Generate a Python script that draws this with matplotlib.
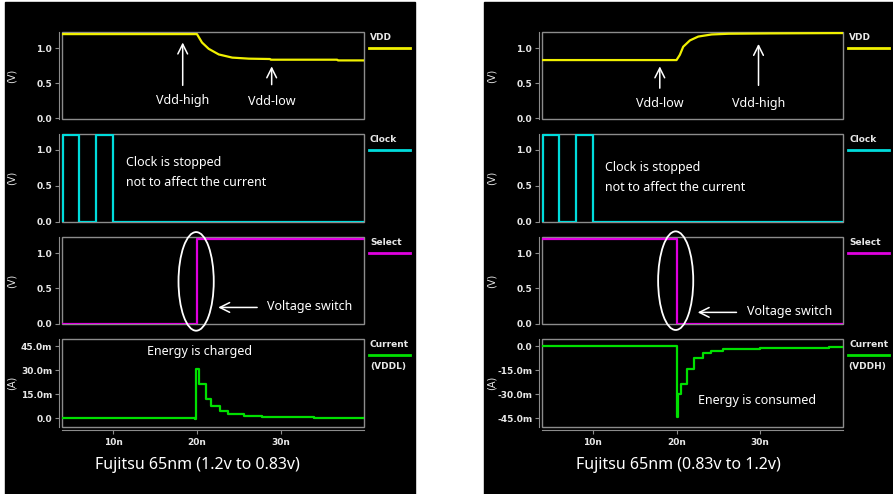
import matplotlib
matplotlib.use("Agg")
import matplotlib.pyplot as plt
from matplotlib.patches import Rectangle, Ellipse
from matplotlib.lines import Line2D

plt.rcParams['font.family'] = ['Noto Sans', 'DejaVu Sans']

# ---- data (time in ns, voltage in V, current in mA) ----
vdd_left_t = [3.9, 20.0, 20.6, 21.4, 22.6, 24.2, 26.2, 28.7, 28.8, 36.7, 36.8, 40.0]
vdd_left_v = [1.2, 1.2, 1.08, 0.99, 0.91, 0.865, 0.85, 0.845, 0.835, 0.835, 0.825, 0.825]
vdd_right_t = [3.9, 20.0, 20.4, 20.8, 21.6, 22.6, 24.2, 26.2, 31.4, 40.0]
vdd_right_v = [0.83, 0.83, 0.905, 1.02, 1.11, 1.165, 1.195, 1.205, 1.21, 1.215]

clock_t = [4.0, 4.0, 6.0, 6.0, 8.0, 8.0, 10.0, 10.0, 40.0]
clock_v = [0.0, 1.2, 1.2, 0.0, 0.0, 1.2, 1.2, 0.0, 0.0]

select_t = [3.9, 20.0, 20.0, 40.0]
select_left_v = [0.0, 0.0, 1.2, 1.2]
select_right_v = [1.2, 1.2, 0.0, 0.0]

cur_left_t = [3.9, 19.8, 19.9, 20.3, 21.1, 21.7, 22.7, 23.7, 25.6, 27.7, 33.9, 40.0]
cur_left_i = [0.0, -0.8, 30.5, 21.5, 12.0, 7.3, 4.1, 2.3, 1.2, 0.8, 0.3, 0.3]
cur_right_t = [3.9, 20.0, 20.15, 20.5, 21.2, 22.1, 23.2, 24.1, 25.6, 30.0, 38.2, 40.0]
cur_right_i = [0.0, -44.5, -30.0, -23.7, -14.3, -7.7, -4.1, -2.9, -2.1, -1.5, -0.4, -0.4]

v_ticks = [0.0, 0.5, 1.0]
v_labels = ["0.0", "0.5", "1.0"]
t_ticks = [10, 20, 30]
t_labels = ["10n", "20n", "30n"]
i_left_ticks = [0, 15, 30, 45]
i_left_labels = ["0.0", "15.0m", "30.0m", "45.0m"]
i_right_ticks = [0, -15, -30, -45]
i_right_labels = ["0.0", "-15.0m", "-30.0m", "-45.0m"]

YEL = '#f0f000'
CYA = '#00dcdc'
MAG = '#e000e0'
GRN = '#00e000'
GRAY = '#8c8c8c'
TXT = '#e8e8e8'

W, H = 893, 494
fig = plt.figure(figsize=(W / 100, H / 100), dpi=100)
fig.patch.set_facecolor('white')


def fx(x):
    return x / W


def fy(y):
    return 1 - y / H


# black panels
fig.patches.append(Rectangle((fx(5), 0), fx(410), fy(2), transform=fig.transFigure,
                             color='black', zorder=-5))
fig.patches.append(Rectangle((fx(484), 0), fx(409), fy(2), transform=fig.transFigure,
                             color='black', zorder=-5))

rows = [(32, 119), (134, 222), (237, 324), (339, 427)]
cols = [(62, 364), (542, 843)]


def make_ax(col, row, bottom=False):
    x0, x1 = cols[col]
    y0, y1 = rows[row]
    ax = fig.add_axes([fx(x0), fy(y1), fx(x1 - x0), (y1 - y0) / H])
    ax.set_facecolor('black')
    for s in ['top', 'right']:
        ax.spines[s].set_visible(False)
    ax.spines['left'].set_position(('outward', 2))
    ax.spines['left'].set_color(GRAY)
    if bottom:
        ax.spines['bottom'].set_position(('outward', 2))
        ax.spines['bottom'].set_color(GRAY)
        ax.set_xticks(t_ticks)
        ax.set_xticklabels(t_labels)
    else:
        ax.spines['bottom'].set_visible(False)
        ax.set_xticks([])
    ax.add_patch(Rectangle((0, 0), 1, 1, transform=ax.transAxes, fill=False,
                           ec=GRAY, lw=1, clip_on=False, zorder=1))
    ax.tick_params(colors=GRAY, labelcolor=TXT, labelsize=6.5, length=3, width=0.8, pad=2)
    ax.tick_params(axis='x', pad=3)
    ax.set_xlim(3.92, 39.9)
    return ax


def style_ticks(ax):
    for lab in ax.get_xticklabels() + ax.get_yticklabels():
        lab.set_family('DejaVu Sans')
        lab.set_fontweight('bold')


def legend_entry(col, row, name, color, extra=None):
    x0, x1 = cols[col]
    y0, _ = rows[row]
    lx = x1 + 5
    fig.text(fx(lx + 1), fy(y0 + 5), name, color=TXT, fontsize=6.5, fontweight='bold',
             family='DejaVu Sans', va='center', ha='left')
    fig.add_artist(Line2D([fx(lx), fx(lx + 41)], [fy(y0 + 16), fy(y0 + 16)],
                          color=color, lw=2, transform=fig.transFigure))
    if extra:
        fig.text(fx(lx + 19), fy(y0 + 28), extra, color=TXT, fontsize=6.5, fontweight='bold',
                 family='DejaVu Sans', va='center', ha='center')


def up_arrow(ax, t, y_from, y_to):
    ax.annotate('', xy=(t, y_to), xytext=(t, y_from),
                arrowprops=dict(arrowstyle='->,head_length=0.7,head_width=0.35',
                                color='white', lw=1.1))


def ylab(ax, s):
    ax.set_ylabel(s, color=TXT, fontsize=7, family='DejaVu Sans')
    ax.yaxis.set_label_coords(-0.15, 0.5)


TF = 9
for col in range(2):
    # VDD
    ax = make_ax(col, 0)
    ax.set_ylim(-0.01, 1.23)
    ax.set_yticks(v_ticks)
    ax.set_yticklabels(v_labels)
    if col == 0:
        ax.plot(vdd_left_t, vdd_left_v, color=YEL, lw=1.6, zorder=3)
        up_arrow(ax, 18.3, 0.43, 1.12)
        ax.text(18.3, 0.25, 'Vdd-high', color='white', fontsize=TF, ha='center', va='center')
        up_arrow(ax, 28.9, 0.44, 0.78)
        ax.text(28.9, 0.24, 'Vdd-low', color='white', fontsize=TF, ha='center', va='center')
    else:
        ax.plot(vdd_right_t, vdd_right_v, color=YEL, lw=1.6, zorder=3)
        up_arrow(ax, 18.0, 0.39, 0.78)
        ax.text(18.0, 0.21, 'Vdd-low', color='white', fontsize=TF, ha='center', va='center')
        up_arrow(ax, 29.8, 0.43, 1.1)
        ax.text(29.8, 0.21, 'Vdd-high', color='white', fontsize=TF, ha='center', va='center')
    ylab(ax, '(V)')
    style_ticks(ax)
    legend_entry(col, 0, 'VDD', YEL)

    # Clock
    ax = make_ax(col, 1)
    ax.set_ylim(-0.005, 1.22)
    ax.set_yticks(v_ticks)
    ax.set_yticklabels(v_labels)
    ax.plot(clock_t, clock_v, color=CYA, lw=1.6, zorder=3)
    cy = 0.82 if col == 0 else 0.75
    ax.text(11.5, cy, 'Clock is stopped', color='white', fontsize=TF, ha='left', va='center')
    ax.text(11.5, cy - 0.27, 'not to affect the current', color='white', fontsize=TF,
            ha='left', va='center')
    ylab(ax, '(V)')
    style_ticks(ax)
    legend_entry(col, 1, 'Clock', CYA)

    # Select
    ax = make_ax(col, 2)
    ax.set_ylim(-0.005, 1.23)
    ax.set_yticks(v_ticks)
    ax.set_yticklabels(v_labels)
    ax.plot(select_t, select_left_v if col == 0 else select_right_v, color=MAG, lw=1.6,
            zorder=3)
    ey = 0.6 if col == 0 else 0.61
    ax.add_patch(Ellipse((19.9, ey), 4.2, 1.4, fill=False, ec='white', lw=1.3,
                         clip_on=False, zorder=6))
    ay = 0.23 if col == 0 else 0.16
    ax.annotate('', xy=(22.2, ay), xytext=(27.5, ay),
                arrowprops=dict(arrowstyle='->,head_length=0.7,head_width=0.35',
                                color='white', lw=1.1))
    ax.text(28.4, ay + 0.01, 'Voltage switch', color='white', fontsize=TF, ha='left', va='center')
    ylab(ax, '(V)')
    style_ticks(ax)
    legend_entry(col, 2, 'Select', MAG)

    # Current
    ax = make_ax(col, 3, bottom=True)
    if col == 0:
        ax.set_ylim(-5.6, 49.4)
        ax.set_yticks(i_left_ticks)
        ax.set_yticklabels(i_left_labels)
        ax.plot(cur_left_t, cur_left_i, color=GRN, lw=1.6, drawstyle='steps-post', zorder=3)
        ax.text(20.3, 41.9, 'Energy is charged', color='white', fontsize=TF,
                ha='center', va='center')
        legend_entry(col, 3, 'Current', GRN, '(VDDL)')
        title = 'Fujitsu 65nm (1.2v to 0.83v)'
        tx = 197
    else:
        ax.set_ylim(-50.6, 4.4)
        ax.set_yticks(i_right_ticks)
        ax.set_yticklabels(i_right_labels)
        ax.plot(cur_right_t, cur_right_i, color=GRN, lw=1.6, drawstyle='steps-post', zorder=3)
        ax.text(22.6, -34.2, 'Energy is consumed', color='white', fontsize=TF,
                ha='left', va='center')
        legend_entry(col, 3, 'Current', GRN, '(VDDH)')
        title = 'Fujitsu 65nm (0.83v to 1.2v)'
        tx = 678
    ylab(ax, '(A)')
    style_ticks(ax)
    fig.text(fx(tx), fy(465), title, color='white', fontsize=11.5, ha='center', va='center')

fig.savefig('out.png', dpi=100, facecolor=fig.get_facecolor())
